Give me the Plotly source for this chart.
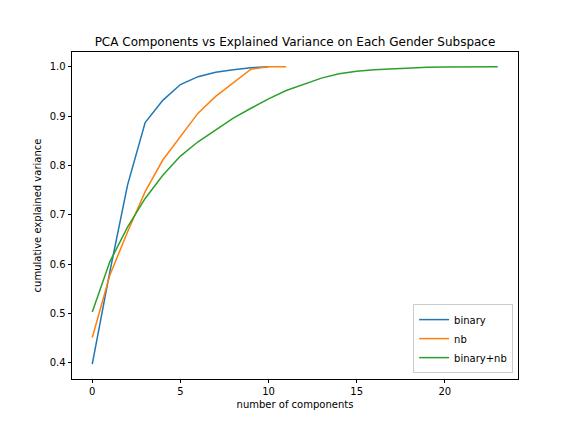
import plotly.graph_objects as go

# cumulative explained variance per number of components
binary_x = list(range(11))
binary_y = [0.397, 0.585, 0.760, 0.887, 0.932, 0.964, 0.980, 0.989, 0.994, 0.998, 1.0]

nb_x = list(range(12))
nb_y = [0.451, 0.578, 0.665, 0.747, 0.811, 0.858, 0.906, 0.940, 0.967, 0.995, 1.0, 1.0]

both_x = list(range(24))
both_y = [0.503, 0.605, 0.675, 0.733, 0.780, 0.819, 0.848, 0.872, 0.896, 0.916,
          0.935, 0.952, 0.965, 0.977, 0.986, 0.991, 0.994, 0.996, 0.998, 0.999,
          0.9995, 0.9998, 1.0, 1.0]

series = [
    ("binary", binary_x, binary_y, "#1f77b4"),
    ("nb", nb_x, nb_y, "#ff7f0e"),
    ("binary+nb", both_x, both_y, "#2ca02c"),
]

fig = go.Figure()
for name, xs, ys, color in series:
    fig.add_trace(go.Scatter(x=xs, y=ys, name=name, mode="lines",
                             line=dict(color=color, width=1.5)))

axis_style = dict(showline=True, linecolor="black", linewidth=0.8, mirror=True,
                  ticks="outside", ticklen=3.5, tickwidth=0.8, tickcolor="black",
                  showgrid=False, zeroline=False,
                  tickfont=dict(size=10, color="black"))

# page body has an 8px margin, so the figure is a bit smaller than the window
W, H = 568, 424

fig.update_layout(
    width=W, height=H,
    paper_bgcolor="white", plot_bgcolor="white",
    font=dict(family="DejaVu Sans", color="black"),
    margin=dict(l=64, r=58, t=44, b=53),
    title=dict(text="PCA Components vs Explained Variance on Each Gender Subspace",
               x=(295 - 8) / W, xanchor="center", y=1 - 34 / H, yanchor="middle",
               font=dict(size=12)),
    xaxis=dict(range=[-1.15, 24.15], tickvals=[0, 5, 10, 15, 20],
               title=dict(text="number of components", font=dict(size=10), standoff=4),
               **axis_style),
    yaxis=dict(range=[0.367, 1.030], tickvals=[0.4, 0.5, 0.6, 0.7, 0.8, 0.9, 1.0],
               tickformat=".1f",
               title=dict(text="cumulative explained variance", font=dict(size=10), standoff=6),
               **axis_style),
    legend=dict(x=0.989, y=0.018, xanchor="right", yanchor="bottom",
                bgcolor="rgba(255,255,255,0.8)", bordercolor="#cccccc", borderwidth=1,
                font=dict(size=10), itemwidth=30, tracegroupgap=0),
    showlegend=True,
)

fig.write_html("out.html")
